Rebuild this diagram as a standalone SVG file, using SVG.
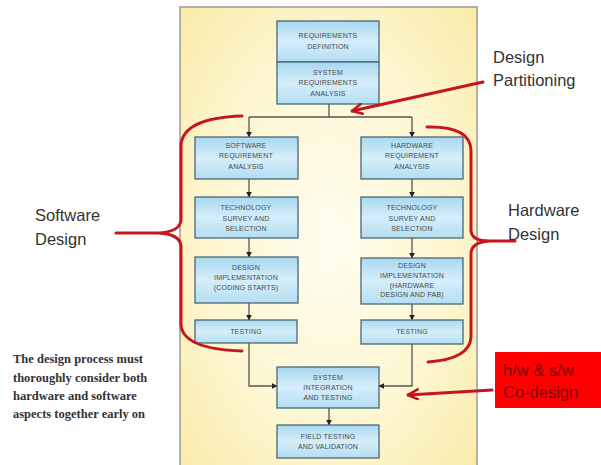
<svg xmlns="http://www.w3.org/2000/svg" width="601" height="465" viewBox="0 0 601 465">
<defs>
<radialGradient id="panelGrad" cx="0.5" cy="0.5" r="0.7">
<stop offset="0" stop-color="#fffdf0"/>
<stop offset="0.6" stop-color="#fdf6cf"/>
<stop offset="1" stop-color="#f9eba8"/>
</radialGradient>
<linearGradient id="boxGrad" x1="0" y1="0" x2="0" y2="1">
<stop offset="0" stop-color="#a8d8ef"/>
<stop offset="0.5" stop-color="#d6eefa"/>
<stop offset="1" stop-color="#b3def2"/>
</linearGradient>
<marker id="ah" viewBox="0 0 10 10" refX="9" refY="5" markerWidth="6" markerHeight="6" orient="auto" markerUnits="userSpaceOnUse">
<path d="M0,0 L10,5 L0,10 z" fill="#222"/>
</marker>
<marker id="rah" viewBox="0 0 12 12" refX="11" refY="6" markerWidth="12" markerHeight="12" orient="auto" markerUnits="userSpaceOnUse">
<path d="M1,1 L11,6 L1,11" fill="none" stroke="#c8141c" stroke-width="2.6" stroke-linecap="round" stroke-linejoin="round"/>
</marker>
</defs>
<style>
.box{fill:url(#boxGrad);stroke:#4d6675;stroke-width:1.3}
.bt{font-family:"Liberation Sans",Arial,sans-serif;font-size:7px;fill:#4a4a4a;text-anchor:middle;letter-spacing:0.2px}
.con{fill:none;stroke:#555;stroke-width:1.3}
.red{fill:none;stroke:#c8141c;stroke-width:3;stroke-linecap:round;stroke-linejoin:round}
.lbl{font-family:"Liberation Sans",Arial,sans-serif;font-size:16.5px;fill:#333}
.cod{font-family:"Liberation Sans",Arial,sans-serif;font-size:16.5px;fill:#7a0a0a}
.note{font-family:"Liberation Serif","Times New Roman",serif;font-size:12.5px;font-weight:bold;fill:#333}
</style>
<rect width="601" height="465" fill="#ffffff"/>
<rect id="panel" x="180" y="7" width="297" height="470" fill="url(#panelGrad)" stroke="#9a9a90" stroke-width="1.5"/>

<g id="connectors">
<path class="con" d="M329,104 V117"/>
<path class="con" d="M249,117 H412"/>
<path class="con" d="M249,117 V137" marker-end="url(#ah)"/>
<path class="con" d="M412,117 V137" marker-end="url(#ah)"/>
<path class="con" d="M249,179 V197" marker-end="url(#ah)"/>
<path class="con" d="M249,238 V257" marker-end="url(#ah)"/>
<path class="con" d="M249,303 V320" marker-end="url(#ah)"/>
<path class="con" d="M412,179 V197" marker-end="url(#ah)"/>
<path class="con" d="M412,238 V258" marker-end="url(#ah)"/>
<path class="con" d="M412,304 V320" marker-end="url(#ah)"/>
<path class="con" d="M249,343 V386 H277" marker-end="url(#ah)"/>
<path class="con" d="M412,344 V386 H379" marker-end="url(#ah)"/>
<path class="con" d="M329,408 V425" marker-end="url(#ah)"/>
</g>

<g id="req-def">
<rect class="box" x="277" y="21" width="102" height="41"/>
<text class="bt" x="328" y="38">REQUIREMENTS</text>
<text class="bt" x="328" y="49">DEFINITION</text>
</g>
<g id="sys-req">
<rect class="box" x="277" y="62" width="102" height="42"/>
<text class="bt" x="328" y="75">SYSTEM</text>
<text class="bt" x="328" y="85">REQUIREMENTS</text>
<text class="bt" x="328" y="96">ANALYSIS</text>
</g>
<g id="sw-req">
<rect class="box" x="195" y="137" width="103" height="42"/>
<text class="bt" x="246" y="148">SOFTWARE</text>
<text class="bt" x="246" y="158">REQUIREMENT</text>
<text class="bt" x="246" y="169">ANALYSIS</text>
</g>
<g id="hw-req">
<rect class="box" x="361" y="137" width="102" height="42"/>
<text class="bt" x="412" y="148">HARDWARE</text>
<text class="bt" x="412" y="158">REQUIREMENT</text>
<text class="bt" x="412" y="169">ANALYSIS</text>
</g>
<g id="sw-tech">
<rect class="box" x="195" y="197" width="103" height="41"/>
<text class="bt" x="246" y="210">TECHNOLOGY</text>
<text class="bt" x="246" y="221">SURVEY AND</text>
<text class="bt" x="246" y="231">SELECTION</text>
</g>
<g id="hw-tech">
<rect class="box" x="361" y="197" width="102" height="41"/>
<text class="bt" x="412" y="210">TECHNOLOGY</text>
<text class="bt" x="412" y="221">SURVEY AND</text>
<text class="bt" x="412" y="231">SELECTION</text>
</g>
<g id="sw-impl">
<rect class="box" x="195" y="257" width="103" height="46"/>
<text class="bt" x="246" y="270">DESIGN</text>
<text class="bt" x="246" y="280">IMPLEMENTATION</text>
<text class="bt" x="246" y="290">(CODING STARTS)</text>
</g>
<g id="hw-impl">
<rect class="box" x="361" y="258" width="102" height="46"/>
<text class="bt" x="412" y="268">DESIGN</text>
<text class="bt" x="412" y="278">IMPLEMENTATION</text>
<text class="bt" x="412" y="288">(HARDWARE</text>
<text class="bt" x="412" y="297">DESIGN AND FAB)</text>
</g>
<g id="sw-test">
<rect class="box" x="195" y="320" width="102" height="23"/>
<text class="bt" x="246" y="334">TESTING</text>
</g>
<g id="hw-test">
<rect class="box" x="361" y="320" width="102" height="24"/>
<text class="bt" x="412" y="334">TESTING</text>
</g>
<g id="sys-int">
<rect class="box" x="277" y="367" width="102" height="41"/>
<text class="bt" x="328" y="380">SYSTEM</text>
<text class="bt" x="328" y="390">INTEGRATION</text>
<text class="bt" x="328" y="400">AND TESTING</text>
</g>
<g id="field-test">
<rect class="box" x="277" y="425" width="102" height="33"/>
<text class="bt" x="328" y="439">FIELD TESTING</text>
<text class="bt" x="328" y="449">AND VALIDATION</text>
</g>

<g id="annotations">
<path class="red" d="M242,116 Q183,118 181,145 L181,220 Q180,232 158,233 L116,233 M158,233 Q180,234 181,246 L181,325 Q183,349 242,351"/>
<path class="red" d="M427,127 Q470,126 471,150 L471,230 Q471,241 490,241 L515,241 M490,241 Q471,242 471,254 L471,337 Q470,359 428,362"/>
<path class="red" d="M483,82 L352,111" marker-end="url(#rah)"/>
<path class="red" d="M492,390 L408,395" marker-end="url(#rah)"/>
<text class="lbl" x="493" y="63">Design</text>
<text class="lbl" x="493" y="86">Partitioning</text>
<text class="lbl" x="35" y="221">Software</text>
<text class="lbl" x="35" y="245">Design</text>
<text class="lbl" x="508" y="216">Hardware</text>
<text class="lbl" x="508" y="240">Design</text>
<rect x="495" y="352" width="106" height="56" fill="#fe0000"/>
<text class="cod" x="503" y="376">h/w &amp; s/w</text>
<text class="cod" x="503" y="398">Co-design</text>
<text class="note" x="13" y="363">The design process must</text>
<text class="note" x="13" y="382">thoroughly consider both</text>
<text class="note" x="13" y="400">hardware and software</text>
<text class="note" x="13" y="418">aspects together early on</text>
</g>
</svg>
